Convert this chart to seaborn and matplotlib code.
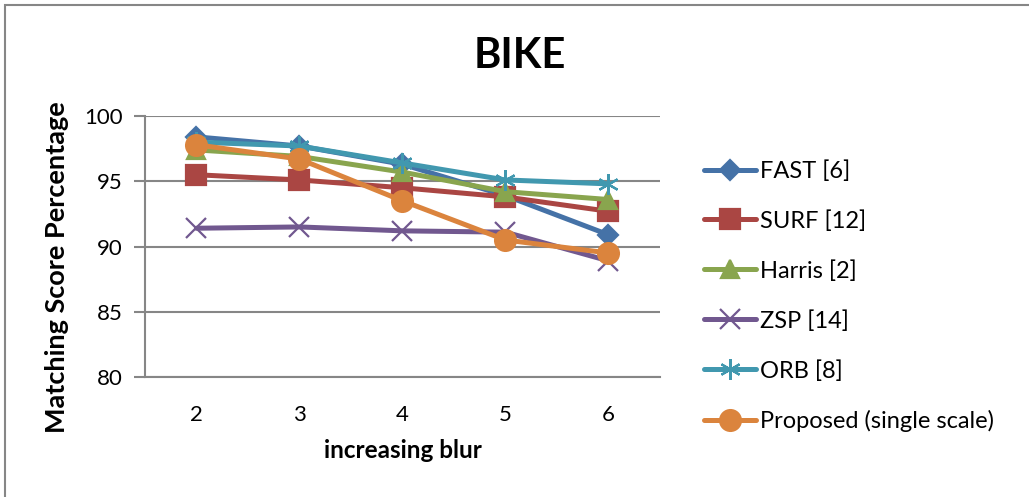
import matplotlib
matplotlib.use("Agg")
import matplotlib.pyplot as plt
import seaborn as sns
import pandas as pd
from matplotlib.patches import Rectangle

blur_levels = [2, 3, 4, 5, 6]

fast = [98.4, 97.7, 96.3, 93.9, 90.9]
surf = [95.5, 95.1, 94.5, 93.8, 92.7]
harris = [97.4, 96.9, 95.7, 94.2, 93.6]
zsp = [91.4, 91.5, 91.2, 91.1, 88.9]
orb = [98.0, 97.7, 96.4, 95.1, 94.8]
proposed = [97.8, 96.7, 93.5, 90.5, 89.5]

series_names = ["FAST [6]", "SURF [12]", "Harris [2]", "ZSP [14]", "ORB [8]",
                "Proposed (single scale)"]
series_values = [fast, surf, harris, zsp, orb, proposed]
colors = ["#4572A7", "#AA4643", "#89A54E", "#71588F", "#4198AF", "#DB843D"]
markers = ["D", "s", "^", "x", (6, 2, 0), "o"]
marker_sizes = [10.5, 14, 12.5, 14, 15, 15]

sns.set_theme(style="white")
plt.rcParams["font.family"] = ["Lato", "DejaVu Sans"]

fig = plt.figure(figsize=(10.29, 4.97), dpi=100)
ax = fig.add_axes([0.1409, 0.2414, 0.5005, 0.5252])

for name, vals, col, mk, ms in zip(series_names, series_values, colors,
                                   markers, marker_sizes):
    df = pd.DataFrame({"blur": blur_levels, "score": vals})
    sns.lineplot(data=df, x="blur", y="score", ax=ax, color=col, marker=mk,
                 markersize=ms, linewidth=3.6, label=name,
                 markeredgecolor=col, markeredgewidth=1.6)

ax.set_xlim(1.5, 6.5)
ax.set_ylim(80, 100)
ax.set_xticks(blur_levels)
ax.set_yticks([80, 85, 90, 95, 100])
ax.yaxis.grid(True, color="#868686", linewidth=1.5)
ax.set_axisbelow(True)
for side in ["top", "right"]:
    ax.spines[side].set_visible(False)
for side in ["left", "bottom"]:
    ax.spines[side].set_color("#868686")
    ax.spines[side].set_linewidth(1.5)
ax.tick_params(axis="y", length=8, width=1.5, color="#868686", direction="out",
               labelsize=16, pad=8, left=True, labelcolor="black")
ax.tick_params(axis="x", length=0, labelsize=16, pad=20, labelcolor="black")

ax.set_xlabel("increasing blur", fontsize=17.5, fontweight="bold", labelpad=10,
              color="black")
ax.set_ylabel("Matching Score Percentage", fontsize=19.5, fontweight="bold",
              color="black")
ax.yaxis.set_label_coords(-0.147, 0.421)

fig.text(0.505, 0.888, "BIKE", ha="center", va="center", fontsize=30,
         fontweight="bold", color="black")

leg = ax.legend(loc="center left", bbox_to_anchor=(1.045, 0.31), frameon=False,
                fontsize=17, handlelength=2.2, labelspacing=1.2,
                handletextpad=0.15)
for txt in leg.get_texts():
    txt.set_color("black")

fig.patches.append(Rectangle((5 / 1029, -0.1), 1.2, 1.1 - 4.5 / 497,
                             transform=fig.transFigure, fill=False,
                             edgecolor="#868686", linewidth=1.5))

fig.savefig("out.png", dpi=100)
